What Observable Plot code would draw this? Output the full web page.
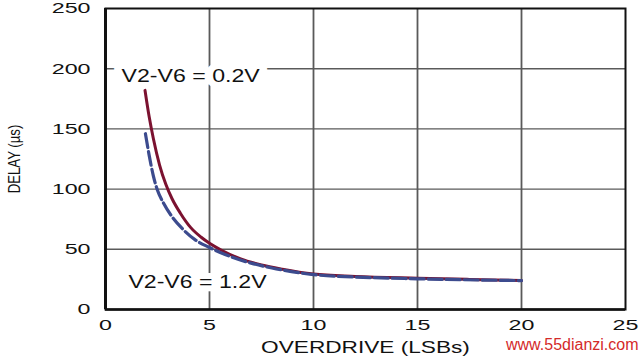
<!DOCTYPE html>
<html><head><meta charset="utf-8">
<script src="https://cdn.jsdelivr.net/npm/d3@7"></script>
<script src="https://cdn.jsdelivr.net/npm/@observablehq/plot@0.6"></script>
<style>
body{margin:0;background:#fff}
#wrap{position:relative;width:640px;height:360px}
#wm{position:absolute;left:506px;top:336px;font:16px "Liberation Sans",Arial,sans-serif;color:#d42a2a;z-index:2;line-height:18px}
</style>
</head><body><div id="wrap"><div id="wm">www.55dianzi.com</div></div>
<script>
// Tick values
const xTicks = [0, 5, 10, 15, 20, 25];
const yTicks = [0, 50, 100, 150, 200, 250];

// Series V2-V6 = 0.2V (solid)
const overdrive02 = [1.9, 2.1, 2.3, 2.6, 2.9, 3.2, 3.6, 4.1, 4.6, 5, 5.6, 6.5, 7.5, 8.5, 10, 12, 15, 17.5, 20];
const delay02     = [182, 160, 142, 120, 104, 92, 80, 68, 60, 55, 49, 42, 37, 33.5, 29.5, 27.5, 26, 25, 24];

// Series V2-V6 = 1.2V (dashed)
const overdrive12 = [1.92, 2.1, 2.3, 2.5, 2.8, 3.2, 3.7, 4.3, 5, 6, 7, 8, 10, 12, 15, 20];
const delay12     = [146, 128, 111, 99, 88, 77, 67, 58, 51.5, 44, 38.5, 34.5, 29, 27, 25.5, 24];

// Annotation texts
const seriesLabels = ["V2-V6 = 0.2V", "V2-V6 = 1.2V"];
const xLabel = "OVERDRIVE (LSBs)";
const yLabel = "DELAY (µs)";

const data02 = overdrive02.map((x, i) => ({x, y: delay02[i]}));
const data12 = overdrive12.map((x, i) => ({x, y: delay12[i]}));

const svg = Plot.plot({
  width: 640,
  height: 360,
  marginLeft: 105,
  marginRight: 15,
  marginTop: 8,
  marginBottom: 51,
  style: {fontFamily: "'Liberation Sans', Arial, Helvetica, sans-serif", color: "#111", background: "#fff", overflow: "visible"},
  x: {domain: [0, 25], axis: null},
  y: {domain: [0, 250], axis: null},
  marks: [
    Plot.gridX(xTicks.slice(1, -1), {stroke: "#5a5a5a", strokeOpacity: 1, strokeWidth: 1.8}),
    Plot.gridY(yTicks.slice(1, -1), {stroke: "#5a5a5a", strokeOpacity: 1, strokeWidth: 1.4}),
    Plot.frame({stroke: "#111", strokeWidth: 2}),
    Plot.ruleX([0], {stroke: "#111", strokeWidth: 3}),
    Plot.ruleY([0], {stroke: "#111", strokeWidth: 2.4}),
    Plot.axisX(xTicks, {tickSize: 0, tickPadding: 10, fontSize: 15, label: null}),
    Plot.axisY(yTicks, {tickSize: 0, tickPadding: 15, fontSize: 15, label: null}),
    Plot.text(seriesLabels, {x: [0.77, 1.1], y: [194, 23], text: d => d, textAnchor: "start", fontSize: 18.5,
      fill: "#111", stroke: "#fff", strokeWidth: 12}),
    Plot.line(data02, {x: "x", y: "y", stroke: "#7b1230", strokeWidth: 3, curve: "monotone-x"}),
    Plot.line(data12, {x: "x", y: "y", stroke: "#3c4b8e", strokeWidth: 3.2, strokeDasharray: "14,4", curve: "monotone-x"}),
    Plot.text([xLabel], {frameAnchor: "bottom", dy: 38, lineAnchor: "middle", textAnchor: "middle", text: d => d, fontSize: 16.3, fill: "#111"}),
    Plot.text([yLabel], {frameAnchor: "left", dx: -91, rotate: -90, textAnchor: "middle", lineAnchor: "middle", text: d => d, fontSize: 13.2, fill: "#111"})
  ]
});

document.getElementById("wrap").prepend(svg);

// Widen glyphs horizontally, as in the reference artwork
const tickStrings = new Set([...xTicks, ...yTicks].map(String));
svg.querySelectorAll("text").forEach(t => {
  const s = t.textContent;
  let tr = t.getAttribute("transform") || "";
  const xa = t.getAttribute("x");
  if (s === yLabel) {
    // horizontal widening applied before the rotation (condensed upright look)
    t.setAttribute("transform", tr.replace(/rotate\(/, "scale(1.2,1) rotate("));
    return;
  }
  let sx = null;
  if (tickStrings.has(s)) sx = 1.55;
  else if (seriesLabels.includes(s)) sx = 1.25;
  else if (s === xLabel) sx = 1.39;
  if (sx === null) return;
  if (xa !== null && !tr) { tr = `translate(${xa},0)`; t.removeAttribute("x"); }
  t.setAttribute("transform", tr + ` scale(${sx},1)`);
});
</script>
</body></html>
